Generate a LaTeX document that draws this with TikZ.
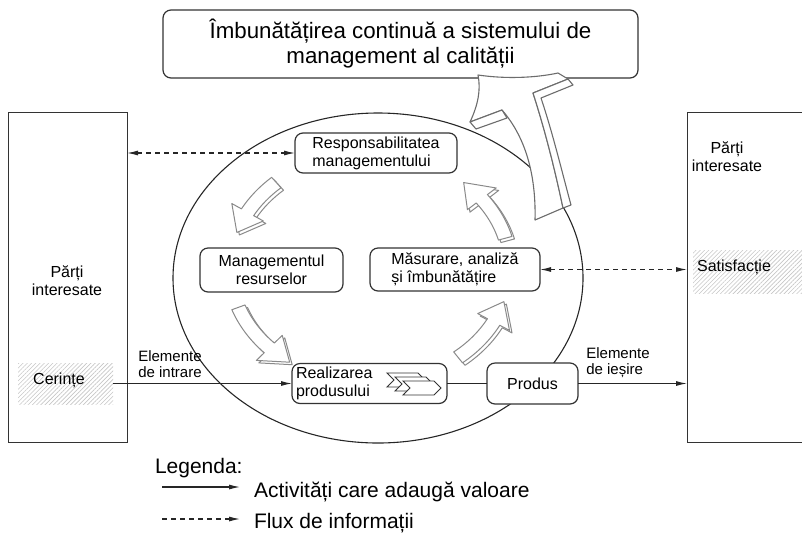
\documentclass[tikz,border=0pt]{standalone}
\usepackage{fontspec}
\setmainfont{Liberation Sans}
\usetikzlibrary{arrows.meta,patterns.meta,calc}
\definecolor{boxline}{HTML}{333333}
\definecolor{arrgray}{HTML}{8A8A8A}
\newcommand{\cycarrow}[2]{%
  \pgfmathsetmacro{\cyb}{#2+11}%
  \foreach \s in {2.5,0}{%
  \path[cyca, shift={(370+\s,268+\s)}] (#1:147 and 122) arc[start angle=#1, end angle=\cyb, x radius=147, y radius=122]
     -- (\cyb:158 and 133) -- (#2:140 and 115) -- (\cyb:122 and 97) -- (\cyb:133 and 108)
     arc[start angle=\cyb, end angle=#1, x radius=133, y radius=108] -- cycle;}}
\begin{document}
\begin{tikzpicture}[x=1pt,y=-1pt,
  every node/.style={inner sep=0pt, outer sep=0pt, text=black},
  rbox/.style={draw=boxline, line width=1.2pt, rounded corners=8pt, fill=white, align=center},
  sbox/.style={draw=boxline, line width=1pt},
  lbl/.style={font=\fontsize{16}{18}\selectfont},
  sm/.style={font=\fontsize{15}{16}\selectfont, align=left},
  hatch/.style={pattern={Lines[angle=45,distance=3pt,line width=0.6pt]}, pattern color=gray!45},
  flow/.style={line width=1.1pt, draw=black!85},
  tip/.style={-{Latex[length=11pt,width=5pt]}},
  tips/.style={{Latex[length=11pt,width=5pt]}-{Latex[length=11pt,width=5pt]}},
  info/.style={flow, dash pattern=on 5pt off 4pt},
  cyca/.style={draw=arrgray, line width=1pt, fill=white, line join=round},
  bigarr/.style={draw=gray!85!black, line width=1.1pt, fill=white, line join=round},
  chev/.style={draw=boxline, line width=0.9pt, fill=white, line join=miter},
]
\useasboundingbox (0,0) rectangle (802,539);
\node[rbox, minimum width=475pt, minimum height=68pt, font=\fontsize{22.3}{25}\selectfont] (top) at (400.5,44) {Îmbunătățirea continuă a sistemului de\\management al calității};
\draw[line width=1.1pt, draw=black!85] (378,278) ellipse [x radius=205, y radius=165];
% big arrow
\path[bigarr] (478,75) .. controls (505,79) and (535,78) .. (558,73) -- (568,79) -- (533,93)
  .. controls (545,130) and (555,170) .. (563,208) -- (535,220)
  .. controls (536,180) and (528,140) .. (502,110) -- (470,122)
  .. controls (478,105) and (481,90) .. (478,75) -- cycle;
\path[bigarr] (568,79) -- (573,85) -- (541,98) .. controls (553,134) and (562,172) .. (571,205) -- (563,208)
  .. controls (555,170) and (545,130) .. (533,93) -- cycle;
\path[bigarr] (470,122) -- (476,129) -- (507,118) -- (502,110) -- cycle;
% side boxes
\node[sbox, minimum width=119pt, minimum height=330pt] (lft) at (67.5,277) {};
\node[lbl, align=center] (lftl) at (67,281) {Părți\\interesate};
\node[hatch, minimum width=95pt, minimum height=41pt] (cer) at (65.5,383.5) {};
\node[lbl] (cerl) at (59,380) {Cerințe};
\begin{scope}
\clip (0,0) rectangle (802,539);
\node[sbox, minimum width=119pt, minimum height=330pt] (rgt) at (746.5,277) {};
\node[hatch, minimum width=115pt, minimum height=43pt] (sat) at (750.5,271.5) {};
\end{scope}
\node[lbl, align=center] (rgtl) at (727,157) {Părți\\interesate};
\node[lbl] (satl) at (734,267) {Satisfacție};
% inner boxes
\node[rbox, lbl, align=left, minimum width=162pt, minimum height=40pt] (resp) at (376,153) {Responsabilitatea\\managementului};
\node[rbox, lbl, minimum width=143pt, minimum height=44pt] (mgmt) at (271.5,270) {Managementul\\resurselor};
\node[rbox, lbl, align=left, minimum width=170pt, minimum height=43pt] (mas) at (455,269.5) {Măsurare, analiză\\și îmbunătățire};
\node[rbox, minimum width=155pt, minimum height=40pt] (real) at (369.5,383.5) {};
\node[lbl, align=left, anchor=west] (realt) at ([xshift=4pt]real.west) {Realizarea\\produsului};
\node[rbox, lbl, minimum width=91pt, minimum height=41pt] (prod) at (532.5,383.5) {Produs};
% chevrons
\foreach \dx/\dy in {0/0,8/4,16/8}{
  \path[chev, shift={(387+\dx,373+\dy)}] (0,0) -- (31,0) -- (38,7) -- (31,14) -- (0,14) -- (7,7) -- cycle;}
% cycle arrows
\cycarrow{228}{198}
\cycarrow{160}{125}
\cycarrow{51}{17}
\cycarrow{345}{312}
% connectors
\draw[info,tips] (lft.east |- resp.west) -- (resp.west);
\draw[info,tips] (mas.east) -- (rgt.west |- mas.east);
\draw[flow,tip] (cer.east) -- (cer.east -| real.west);
\draw[flow] (real) -- (prod);
\draw[flow,tip] (prod) -- (prod.east -| rgt.west);
\node[sm] (inl) at (170,364) {Elemente\\de intrare};
\node[sm] (outl) at (618,363) {Elemente\\de ieșire};
% legend
\node[font=\fontsize{21}{24}\selectfont, anchor=west] (leg) at (155,468) {Legenda:};
\coordinate (l1a) at (162,487); \coordinate (l1b) at (240,487);
\coordinate (l2a) at (162,519); \coordinate (l2b) at (240,519);
\draw[flow,tip] (l1a) -- (l1b);
\draw[info,tip] (l2a) -- (l2b);
\node[font=\fontsize{21}{24}\selectfont, anchor=west] (l1t) at (254,492) {Activități care adaugă valoare};
\node[font=\fontsize{21}{24}\selectfont, anchor=west] (l2t) at (254,523) {Flux de informații};
\end{tikzpicture}
\end{document}
